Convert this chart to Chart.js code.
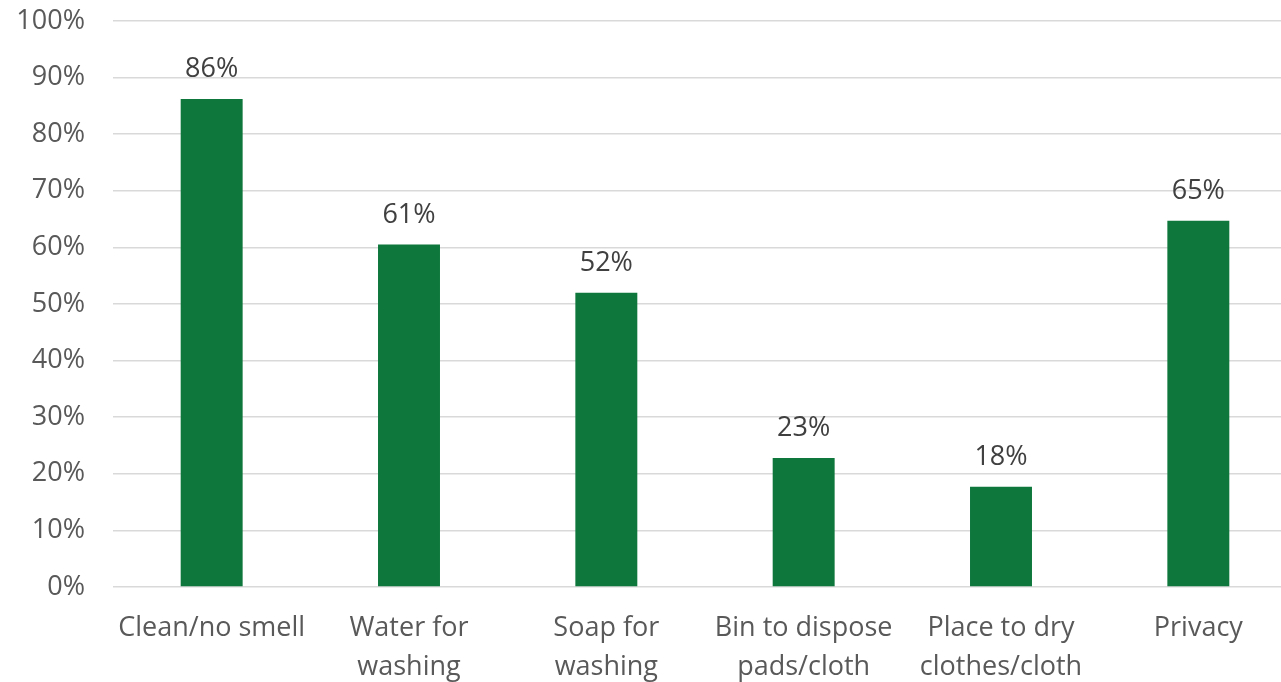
<!DOCTYPE html>
<html>
<head>
<meta charset="utf-8">
<script src="https://cdn.jsdelivr.net/npm/chart.js@4"></script>
<style>
  html, body { margin: 0; padding: 0; background: #fff; overflow: hidden; }
  #wrap { width: 1281px; height: 682px; overflow: hidden; }
  #inner { width: 1297px; height: 682px; position: relative; }
</style>
</head>
<body>
<div id="wrap"><div id="inner"><canvas id="toiletChart"></canvas></div></div>
<script>
// categories and values
const categories = [
  ['Clean/no smell'],
  ['Water for', 'washing'],
  ['Soap for', 'washing'],
  ['Bin to dispose', 'pads/cloth'],
  ['Place to dry', 'clothes/cloth'],
  ['Privacy']
];
const shares = [86.2, 60.5, 52.0, 22.8, 17.7, 64.7];
const yTicks = [0, 10, 20, 30, 40, 50, 60, 70, 80, 90, 100];

const textColor = '#595959';
const fontFamily = '"Open Sans", sans-serif';

// draws the % label above each bar
const barLabels = {
  id: 'barLabels',
  afterDatasetsDraw(chart) {
    const ctx = chart.ctx;
    const meta = chart.getDatasetMeta(0);
    ctx.save();
    ctx.fillStyle = '#404040';
    ctx.font = '27px ' + fontFamily;
    ctx.textAlign = 'center';
    ctx.textBaseline = 'alphabetic';
    meta.data.forEach((bar, i) => {
      ctx.fillText(Math.round(shares[i]) + '%', bar.x, bar.y - 22);
    });
    ctx.restore();
  }
};

new Chart(document.getElementById('toiletChart'), {
  type: 'bar',
  data: {
    labels: categories,
    datasets: [{
      data: shares,
      backgroundColor: '#0E773C',
      barPercentage: 0.314,
      categoryPercentage: 1
    }]
  },
  plugins: [barLabels],
  options: {
    responsive: true,
    maintainAspectRatio: false,
    animation: false,
    layout: { padding: 0 },
    plugins: {
      legend: { display: false },
      tooltip: { enabled: false }
    },
    scales: {
      x: {
        grid: { display: false },
        border: { display: false },
        ticks: {
          color: textColor,
          font: { family: fontFamily, size: 27, lineHeight: 1.45 },
          maxRotation: 0,
          autoSkip: false,
          padding: 14
        },
        afterFit(scale) { scale.height = 95; }
      },
      y: {
        min: 0,
        max: 100,
        afterBuildTicks(scale) { scale.ticks = yTicks.map(v => ({ value: v })); },
        grid: { color: '#D9D9D9', lineWidth: 1.5, drawTicks: false },
        border: { display: false },
        ticks: {
          color: textColor,
          font: { family: fontFamily, size: 27 },
          padding: 28,
          callback: v => v + '%'
        },
        afterFit(scale) {
          scale.width = 113;
          scale.paddingTop = 21;
          scale.paddingBottom = 0;
        }
      }
    }
  }
});
</script>
</body>
</html>
